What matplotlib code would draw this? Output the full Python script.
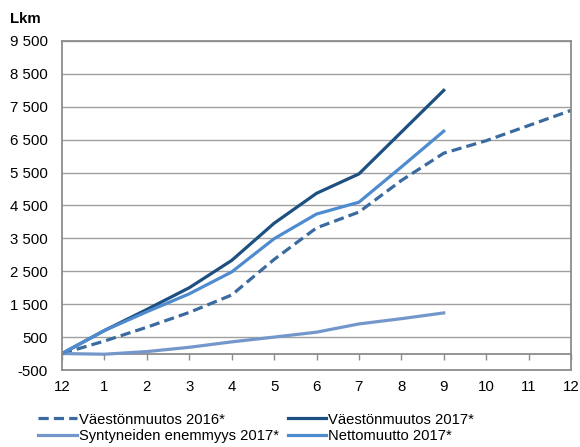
import numpy as np
import matplotlib.pyplot as plt

plt.rcParams['font.family'] = ['Liberation Sans', 'DejaVu Sans']

# Kuukaudet (12 = edellisen vuoden joulukuu)
kuukaudet = ['12', '1', '2', '3', '4', '5', '6', '7', '8', '9', '10', '11', '12']

# Kumulatiiviset luvut
vaestonmuutos_2016 = [0, 380, 800, 1250, 1780, 2860, 3820, 4300, 5260, 6090, 6470, 6930, 7390]
vaestonmuutos_2017 = [0, 700, 1340, 2000, 2830, 3960, 4870, 5460, 6730, 8000]
syntyneiden_2017 = [0, -20, 60, 190, 355, 500, 650, 900, 1060, 1235]
nettomuutto_2017 = [0, 700, 1270, 1815, 2480, 3490, 4240, 4600, 5670, 6760]

y_ticks = np.arange(-500, 9501, 1000)

fig = plt.figure(figsize=(5.8, 4.47), dpi=100)
ax = fig.add_axes([62 / 580, 1 - 370 / 447, 509 / 580, 329 / 447])

x = np.arange(len(kuukaudet))
lw = 2.3
ax.plot(x, vaestonmuutos_2016, color='#3a6a9f', lw=lw, dashes=(3.2, 1.6),
        label='Väestönmuutos 2016*')
ax.plot(x[:len(syntyneiden_2017)], syntyneiden_2017, color='#7497cb', lw=lw,
        label='Syntyneiden enemmyys 2017*')
ax.plot(x[:len(vaestonmuutos_2017)], vaestonmuutos_2017, color='#1d4f80', lw=lw,
        label='Väestönmuutos 2017*')
ax.plot(x[:len(nettomuutto_2017)], nettomuutto_2017, color='#4f8bcf', lw=lw,
        label='Nettomuutto 2017*')

ax.set_xlim(0, len(kuukaudet) - 1)
ax.set_ylim(-500, 9500)
ax.set_yticks(y_ticks)
ax.set_yticklabels([f'{v:,}'.replace(',', ' ') for v in y_ticks])
ax.set_xticks(x)
ax.set_xticklabels(kuukaudet)
ax.tick_params(axis='both', length=0, labelsize=10.8, colors='black')
ax.tick_params(axis='y', pad=10)
ax.tick_params(axis='x', pad=7)
ax.grid(axis='y', color='#a0a0a0', lw=1)
ax.set_axisbelow(True)
for s in ax.spines.values():
    s.set_color('#8c8c8c')
    s.set_linewidth(1.3)

# nollataso tikkeineen
sec = ax.secondary_xaxis(500 / 10000)
sec.set_xticks(x)
sec.set_xticklabels([])
sec.tick_params(direction='out', length=4, color='#8c8c8c', width=1)
sec.spines['bottom'].set_color('#8c8c8c')
sec.spines['bottom'].set_linewidth(1.3)

fig.text(10 / 580, 1 - 23 / 447, 'Lkm', fontsize=10.8, fontweight='bold')

fig.legend(loc='lower left', bbox_to_anchor=(25 / 580, -9 / 447), ncol=2,
           frameon=False, fontsize=10.6, handlelength=2.6, handletextpad=0.15,
           columnspacing=0.6, labelspacing=0.15)

fig.savefig('out.png', dpi=100)
